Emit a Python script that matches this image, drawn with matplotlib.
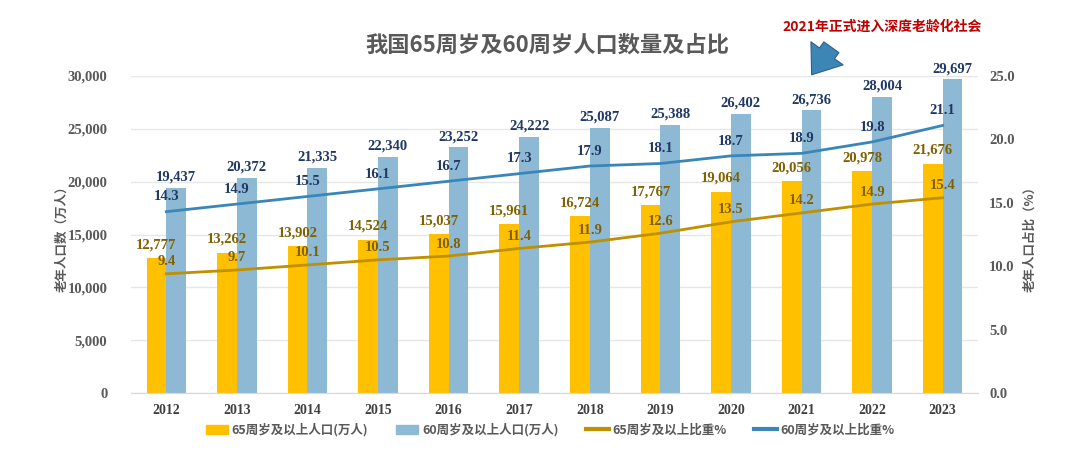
import matplotlib
matplotlib.use("Agg")
import matplotlib.pyplot as plt
import numpy as np
from matplotlib.patches import Patch
from matplotlib.lines import Line2D
from matplotlib.ticker import FuncFormatter

years = ["2012", "2013", "2014", "2015", "2016", "2017", "2018", "2019", "2020", "2021", "2022", "2023"]
pop65 = [12777, 13262, 13902, 14524, 15037, 15961, 16724, 17767, 19064, 20056, 20978, 21676]
pop60 = [19437, 20372, 21335, 22340, 23252, 24222, 25087, 25388, 26402, 26736, 28004, 29697]
pct65 = [9.4, 9.7, 10.1, 10.5, 10.8, 11.4, 11.9, 12.6, 13.5, 14.2, 14.9, 15.4]
pct60 = [14.3, 14.9, 15.5, 16.1, 16.7, 17.3, 17.9, 18.1, 18.7, 18.9, 19.8, 21.1]

title = "我国65周岁及60周岁人口数量及占比"
note = "2021年正式进入深度老龄化社会"
ylabel_l = "老年人口数（万人）"
ylabel_r = "老年人口占比（%）"
leg_labels = ["65周岁及以上人口(万人)", "60周岁及以上人口(万人)", "65周岁及以上比重%", "60周岁及以上比重%"]

C_ORANGE = "#FFC000"
C_BLUE = "#8DB9D5"
C_L65 = "#BF9000"
C_L60 = "#3A86B8"
C_NAVY = "#1F3864"
C_GOLD = "#806000"
C_GRAY = "#595959"

CJK = ["Noto Sans CJK SC", "DejaVu Sans"]
SERIF = ["Liberation Serif", "DejaVu Serif"]

fig = plt.figure(figsize=(10.8, 4.53), dpi=100)
ax = fig.add_axes([131/1080, 1-393/453, (978-131)/1080, (393-76)/453])
ax2 = ax.twinx()

x = np.arange(len(years))
w = 0.28
ax.bar(x - w/2, pop65, w, color=C_ORANGE, zorder=2)
ax.bar(x + w/2, pop60, w, color=C_BLUE, zorder=2)

ax.set_ylim(0, 30000)
ax.set_xlim(-0.5, len(years) - 0.5)
ax.set_yticks(np.arange(0, 30001, 5000))
ax.yaxis.set_major_formatter(FuncFormatter(lambda v, p: f"{int(v):,}"))
ax.grid(axis="y", color="#E6E6E6", linewidth=1, zorder=0)
ax.set_axisbelow(True)
ax.set_xticks(x)
ax.set_xticklabels(years)

ax2.set_ylim(0, 25)
ax2.set_yticks(np.arange(0, 25.1, 5))
ax2.yaxis.set_major_formatter(FuncFormatter(lambda v, p: f"{v:.1f}"))

ax2.plot(x, pct65, color=C_L65, lw=2.0, zorder=3)
ax2.plot(x, pct60, color=C_L60, lw=2.0, zorder=3)

for a in (ax, ax2):
    for s in ("top", "left", "right"):
        a.spines[s].set_visible(False)
    a.spines["bottom"].set_color("#D9D9D9")
    a.tick_params(length=0)

ax.tick_params(axis="y", pad=17)
ax2.tick_params(axis="y", pad=8)
ax.tick_params(axis="x", pad=8)
for lab in ax.get_yticklabels() + ax2.get_yticklabels():
    lab.set_fontfamily(SERIF); lab.set_fontweight("bold"); lab.set_fontsize(10.5); lab.set_color(C_GRAY)
for lab in ax.get_xticklabels():
    lab.set_fontfamily(SERIF); lab.set_fontweight("bold"); lab.set_fontsize(10); lab.set_color("#404040")

# bar labels
for xi, v in zip(x, pop65):
    ax.annotate(f"{v:,}", (xi - w/2, v), xytext=(0, 5), textcoords="offset points",
                ha="center", va="bottom", fontsize=10.5, fontweight="bold",
                fontfamily=SERIF, color=C_GOLD, zorder=5)
for xi, v in zip(x, pop60):
    ax.annotate(f"{v:,}", (xi + w/2, v), xytext=(0, 3), textcoords="offset points",
                ha="center", va="bottom", fontsize=10.5, fontweight="bold",
                fontfamily=SERIF, color=C_NAVY, zorder=5)
# line labels
for xi, v in zip(x, pct65):
    ax2.annotate(f"{v:.1f}", (xi, v), xytext=(0, 4), textcoords="offset points",
                 ha="center", va="bottom", fontsize=10.5, fontweight="bold",
                 fontfamily=SERIF, color=C_GOLD, zorder=5)
for xi, v in zip(x, pct60):
    ax2.annotate(f"{v:.1f}", (xi, v), xytext=(0, 6), textcoords="offset points",
                 ha="center", va="bottom", fontsize=10.5, fontweight="bold",
                 fontfamily=SERIF, color=C_NAVY, zorder=5)

fig.text(547/1080, 1-45/453, title, ha="center", va="center", fontsize=16,
         fontweight="bold", family=CJK, color=C_GRAY)
fig.text(882/1080, 1-27/453, note, ha="center", va="center", fontsize=10,
         fontweight="bold", family=CJK, color="#C00000")
i21 = years.index("2021")
ax.annotate("", xy=(i21 + 0.12, 29900), xycoords="data",
            xytext=(833/1080, 1-45/453), textcoords="figure fraction",
            arrowprops=dict(arrowstyle="simple,head_width=1.5,head_length=1.0,tail_width=0.7",
                            fc="#3C86B6", ec="#2F5F8A", lw=0.8, mutation_scale=19),
            annotation_clip=False)

fig.text(62/1080, 1-236/453, ylabel_l, rotation=90, ha="center", va="center",
         fontsize=9, fontweight="bold", family=CJK, color=C_GRAY)
fig.text(1030/1080, 1-236/453, ylabel_r, rotation=90, ha="center", va="center",
         fontsize=9, fontweight="bold", family=CJK, color=C_GRAY)

handles = [Patch(color=C_ORANGE), Patch(color=C_BLUE),
           Line2D([], [], color=C_L65, lw=3), Line2D([], [], color=C_L60, lw=3)]
leg = fig.legend(handles, leg_labels, loc="center", bbox_to_anchor=(550/1080, 1-430/453),
                 ncol=4, frameon=False, prop={"family": CJK, "size": 9, "weight": "bold"},
                 handlelength=1.8, handletextpad=0.3, columnspacing=2.2)
for t in leg.get_texts():
    t.set_color(C_GRAY)

fig.savefig("out.png", dpi=100, facecolor="white")
